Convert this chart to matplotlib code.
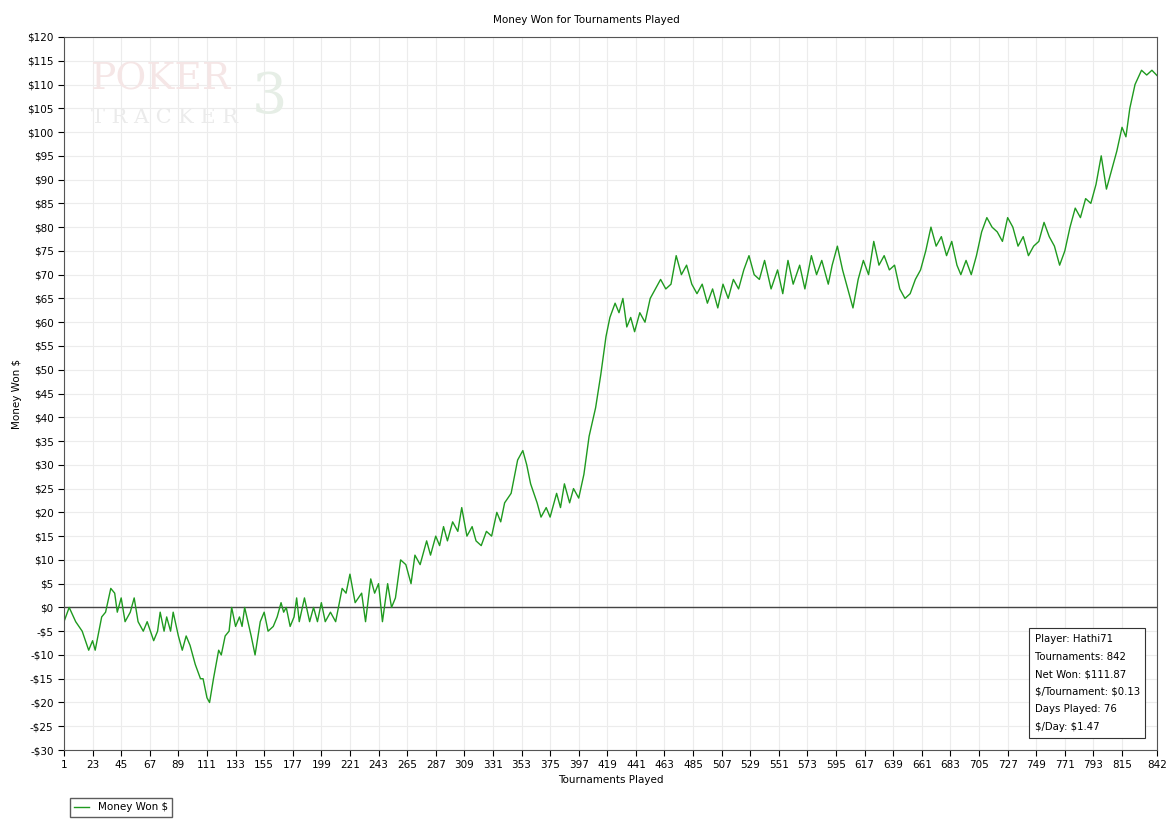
import matplotlib
matplotlib.use("Agg")
import matplotlib.pyplot as plt
from matplotlib.ticker import FuncFormatter

# (tournament, money won)
readings = [
 (1,-3),(5,0),(10,-3),(15,-5),(20,-9),(23,-7),(25,-9),(30,-2),(33,-1),(37,4),(40,3),(42,-1),
 (45,2),(48,-3),(52,-1),(55,2),(58,-3),(62,-5),(65,-3),(70,-7),(73,-5),(75,-1),(78,-5),(80,-2),
 (83,-5),(85,-1),(89,-6),(92,-9),(95,-6),(98,-8),(102,-12),(106,-15),(108,-15),(111,-19),(113,-20),
 (116,-15),(120,-9),(122,-10),(125,-6),(128,-5),(130,0),(133,-4),(136,-2),(138,-4),(140,0),(145,-6),
 (148,-10),(152,-3),(155,-1),(158,-5),(162,-4),(165,-2),(168,1),(170,-1),(172,0),(175,-4),(178,-2),
 (180,2),(182,-3),(186,2),(190,-3),(193,0),(196,-3),(199,1),(202,-3),(206,-1),(210,-3),(215,4),
 (218,3),(221,7),(225,1),(230,3),(233,-3),(237,6),(240,3),(243,5),(246,-3),(250,5),(253,0),(256,2),
 (260,10),(264,9),(268,5),(271,11),(275,9),(280,14),(283,11),(287,15),(290,13),(293,17),(296,14),
 (300,18),(304,16),(307,21),(311,15),(315,17),(318,14),(322,13),(326,16),(330,15),(334,20),(337,18),
 (340,22),(345,24),(350,31),(354,33),(357,30),(360,26),(365,22),(368,19),(372,21),(375,19),(380,24),
 (383,21),(386,26),(390,22),(393,25),(397,23),(401,28),(405,36),(410,42),(414,49),(418,57),(421,61),
 (425,64),(428,62),(431,65),(434,59),(437,61),(440,58),(444,62),(448,60),(452,65),(456,67),(460,69),
 (464,67),(468,68),(472,74),(476,70),(480,72),(484,68),(488,66),(492,68),(496,64),(500,67),(504,63),
 (508,68),(512,65),(516,69),(520,67),(524,71),(528,74),(532,70),(536,69),(540,73),(545,67),(550,71),
 (554,66),(558,73),(562,68),(567,72),(571,67),(576,74),(580,70),(584,73),(589,68),(592,72),(596,76),
 (600,71),(604,67),(608,63),(612,69),(616,73),(620,70),(624,77),(628,72),(632,74),(636,71),(640,72),
 (644,67),(648,65),(652,66),(656,69),(660,71),(664,75),(668,80),(672,76),(676,78),(680,74),(684,77),
 (688,72),(691,70),(695,73),(699,70),(703,74),(707,79),(711,82),(715,80),(719,79),(723,77),(727,82),
 (731,80),(735,76),(739,78),(743,74),(747,76),(751,77),(755,81),(759,78),(763,76),(767,72),(771,75),
 (775,80),(779,84),(783,82),(787,86),(791,85),(795,89),(799,95),(803,88),(807,92),(811,96),(815,101),
 (818,99),(821,105),(825,110),(830,113),(834,112),(838,113),(842,111.87)]
tournaments = [t for t, _ in readings]
money = [m for _, m in readings]
xticks = [1,23,45,67,89,111,133,155,177,199,221,243,265,287,309,331,353,375,397,419,441,463,485,507,529,551,573,595,617,639,661,683,705,727,749,771,793,815,842]
stats = ["Player: Hathi71","Tournaments: 842","Net Won: $111.87","$/Tournament: $0.13","Days Played: 76","$/Day: $1.47"]

plt.rcParams['font.family'] = ['DejaVu Sans']
fig = plt.figure(figsize=(11.72, 8.33), dpi=100)
ax = fig.add_axes([0.0546, 0.0996, 0.9327, 0.856])
ax.set_xlim(1, 842)
ax.set_ylim(-30, 120)
ax.set_xticks(xticks)
ax.set_yticks(range(-30, 121, 5))
ax.yaxis.set_major_formatter(FuncFormatter(lambda v, p: f"-${abs(int(v))}" if v < 0 else f"${int(v)}"))
ax.tick_params(labelsize=7.5, direction='out', length=4)
ax.grid(True, color='#ececec', linewidth=0.8)
ax.set_axisbelow(True)
for s in ax.spines.values():
    s.set_color('#555555')
ax.axhline(0, color='#444444', linewidth=1)
line, = ax.plot(tournaments, money, color='#1f9a1f', linewidth=1, label='Money Won $')

ax.text(0.025, 0.94, "POKER", transform=ax.transAxes, fontsize=27, family='DejaVu Serif', color='#f5e6e6', va='center')
ax.text(0.025, 0.887, "T R A C K E R", transform=ax.transAxes, fontsize=15, family='DejaVu Serif', color='#ebebeb', va='center')
ax.text(0.172, 0.915, "3", transform=ax.transAxes, fontsize=40, family='DejaVu Serif', color='#e6eee6', va='center')

ax.text(0.888, 0.094, "\n".join(stats), transform=ax.transAxes, fontsize=7.3, va='center', ha='left',
        linespacing=1.95, parse_math=False,
        bbox=dict(boxstyle='square,pad=0.55', fc='white', ec='#333333', lw=0.8))

fig.suptitle("Money Won for Tournaments Played", y=0.982, fontsize=7.5)
ax.set_xlabel("Tournaments Played", fontsize=7.5, labelpad=3)
ax.set_ylabel("Money Won $", fontsize=7.5)
fig.legend(handles=[line], loc='upper left', bbox_to_anchor=(0.055, 0.048), fontsize=7.5,
           fancybox=False, edgecolor='#333333', handlelength=1.5, borderpad=0.4)
fig.savefig("out.png", dpi=100)
